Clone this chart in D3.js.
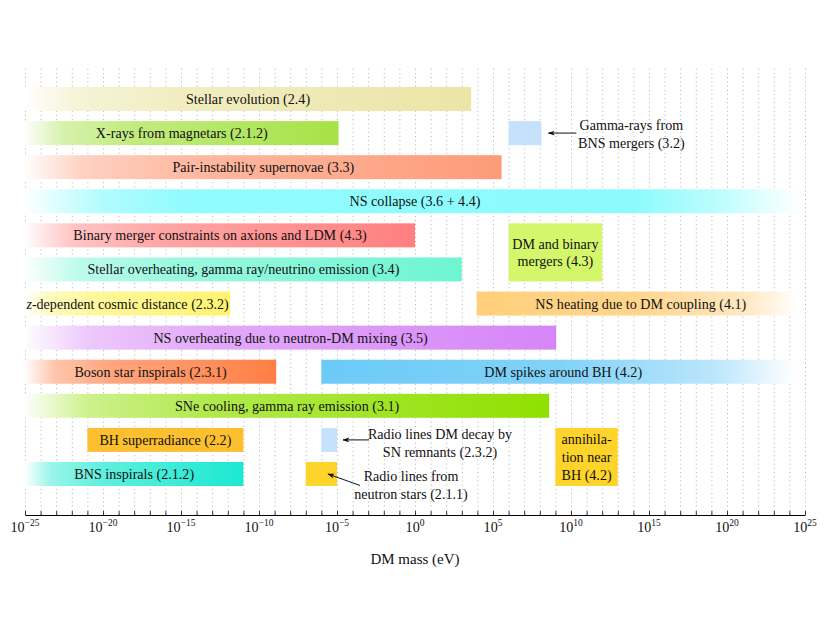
<!DOCTYPE html>
<html><head><meta charset="utf-8">
<script src="https://cdn.jsdelivr.net/npm/d3@7"></script>
<style>
body{margin:0;background:#fff;}
</style></head>
<body><svg id="chart" width="830" height="623" font-family="'Liberation Serif', 'DejaVu Serif', serif"></svg>
<script>
// ---- data (masses in eV, log10 exponents) ----
const barLabels = [
  "Stellar evolution (2.4)",
  "X-rays from magnetars (2.1.2)",
  "Pair-instability supernovae (3.3)",
  "NS collapse (3.6 + 4.4)",
  "Binary merger constraints on axions and LDM (4.3)",
  "Stellar overheating, gamma ray/neutrino emission (3.4)",
  "z-dependent cosmic distance (2.3.2)",
  "NS heating due to DM coupling (4.1)",
  "NS overheating due to neutron-DM mixing (3.5)",
  "Boson star inspirals (2.3.1)",
  "DM spikes around BH (4.2)",
  "SNe cooling, gamma ray emission (3.1)",
  "BH superradiance (2.2)",
  "BNS inspirals (2.1.2)",
  "DM and binary\nmergers (4.3)",
  "annihila-\ntion near\nBH (4.2)"
];
const barLogMin = [-25, -25, -25, -25, -25, -25, -25, 3.95, -25, -25, -6, -25, -21, -25, 6, 9];
const barLogMax = [3.6, -4.9, 5.55, 25, 0, 3, -11.85, 25, 9.05, -8.9, 25, 8.6, -11, -11, 12, 13];
const barRow    = [1, 2, 3, 4, 5, 6, 7, 7, 8, 9, 9, 10, 11, 12, 5, 11];
const barRowSpan= [1, 1, 1, 1, 1, 1, 1, 1, 1, 1, 1, 1, 1, 1, 2, 2];
const barFade   = ["left","left","left","both","left","left","left","right","left","left","right","left","none","left","none","none"];
const barColors = ["#ebe5a6","#a6e247","#fd9b78","#86fbfd","#ff7f7f","#6ef5d2","#fff470","#ffcf7a","#d685f7","#ff7f45","#6ccaf7","#8fe000","#fcbf30","#1ce8d0","#d3f66b","#ffd42a"];

// small boxes with external labels and arrows
const noteLabels = [["Gamma-rays from","BNS mergers (3.2)"],["Radio lines DM decay by","SN remnants (2.3.2)"],["Radio lines from","neutron stars (2.1.1)"]];
const noteLogMin = [6, -6, -7];
const noteLogMax = [8.1, -5, -5];
const noteRow = [2, 11, 12];
const noteColors = ["#c6e1fc","#c6e1fc","#ffd42a"];

const labeledExponents = [-25,-20,-15,-10,-5,0,5,10,15,20,25];
const axisTitle = "DM mass (eV)";

// ---- layout ----
const svg = d3.select("#chart");
const x = d3.scaleLog().domain([1e-25, 1e25]).range([25, 805]);
const nRows = 12;
const y = d3.scaleLinear().domain([1, nRows]).range([99, 474]);
const rowStep = (474-99)/(nRows-1);
const barH = 24;
const plotTop = 67, axisY = 515;
const FS = 14.1;
const TXT = "#111";

const decadeTicks = d3.range(-25, 26).map(e => Math.pow(10, e));

// dotted grid
const grid = svg.append("g").attr("transform", `translate(0,${axisY})`)
  .call(d3.axisBottom(x).tickValues(decadeTicks).tickSize(-(axisY-plotTop)).tickFormat(""));
grid.select(".domain").remove();
grid.selectAll(".tick line").attr("stroke","#9a9a9a").attr("stroke-width",0.8).attr("stroke-dasharray","1,3.2");

// gradients
const defs = svg.append("defs");
const white = "#ffffff";
function gradStops(type, c){
  const m = t => d3.interpolateRgb(white, c)(t);
  if(type==="left") return [[0,m(0.02)],[0.12,m(0.45)],[0.35,m(0.7)],[1,m(1)]];
  if(type==="right") return [[0,m(1)],[0.5,m(0.85)],[0.82,m(0.45)],[0.98,m(0)],[1,m(0)]];
  if(type==="both") return [[0,m(0.02)],[0.1,m(0.65)],[0.2,m(0.9)],[0.78,m(0.95)],[0.9,m(0.5)],[0.99,m(0)],[1,m(0)]];
  return [[0,c],[1,c]];
}
barLabels.forEach((l,i)=>{
  const g = defs.append("linearGradient").attr("id","g"+i).attr("x1","0").attr("x2","1").attr("y1","0").attr("y2","0");
  gradStops(barFade[i], barColors[i]).forEach(s => g.append("stop").attr("offset",s[0]).attr("stop-color",s[1]));
});

// bars
const bars = svg.append("g");
barLabels.forEach((l,i)=>{
  const x0 = x(Math.pow(10,barLogMin[i])), x1 = x(Math.pow(10,barLogMax[i]));
  const yTop = y(barRow[i]) - barH/2;
  const h = barH + (barRowSpan[i]-1)*rowStep;
  bars.append("rect").attr("x",x0).attr("y",yTop).attr("width",x1-x0).attr("height",h)
    .attr("fill", `url(#g${i})`);
  const lines = l.split("\n");
  const cx = (x0+x1)/2, cy = yTop + h/2;
  const lh = 17.6;
  lines.forEach((ln,k)=>{
    const t = bars.append("text").attr("x",cx).attr("y", cy + (k-(lines.length-1)/2)*lh)
      .attr("text-anchor","middle").attr("dominant-baseline","central").attr("font-size",FS).attr("fill",TXT);
    if(ln.startsWith("z-")){
      t.append("tspan").attr("font-style","italic").text("z");
      t.append("tspan").text(ln.slice(1));
    } else t.text(ln);
  });
});

// notes
svg.append("defs").append("marker").attr("id","arr").attr("viewBox","0 0 10 10").attr("refX",9).attr("refY",5)
  .attr("markerWidth",7).attr("markerHeight",7).attr("orient","auto-start-reverse")
  .append("path").attr("d","M0,1.5 L10,5 L0,8.5 L2.5,5 Z").attr("fill","#111");
const notes = svg.append("g");
noteLabels.forEach((l,i)=>{
  const x0 = x(Math.pow(10,noteLogMin[i])), x1 = x(Math.pow(10,noteLogMax[i]));
  const cy = y(noteRow[i]);
  notes.append("rect").attr("x",x0).attr("y",cy-barH/2).attr("width",x1-x0).attr("height",barH).attr("fill",noteColors[i]);
  let tx, ty, ax0, ay0, ax1, ay1;
  if(i===0){ ax0=x1+35; ay0=cy; ax1=x1+7; ay1=cy; tx=x1+90; ty=cy+1; }
  else if(i===1){ ax0=x1+32; ay0=cy; ax1=x1+6; ay1=cy; tx=x1+103; ty=cy+3; }
  else { ax0=x1+23; ay0=cy+11.5; ax1=x1-9; ay1=cy; tx=x1+74; ty=cy+11; }
  notes.append("line").attr("x1",ax0).attr("y1",ay0).attr("x2",ax1).attr("y2",ay1)
    .attr("stroke","#111").attr("stroke-width",1).attr("marker-end","url(#arr)");
  l.forEach((ln,k)=>{
    notes.append("text").attr("x",tx).attr("y",ty + (k-0.5)*17.6).attr("text-anchor","middle")
      .attr("dominant-baseline","central").attr("font-size",FS).attr("fill",TXT).text(ln);
  });
});

// axis
const ax = svg.append("g").attr("transform",`translate(0,${axisY})`)
  .call(d3.axisBottom(x).tickValues(decadeTicks).tickSizeInner(-4).tickSizeOuter(0).tickFormat(""));
ax.attr("font-family",null);
ax.select(".domain").attr("stroke","#000").attr("stroke-width",1);
ax.selectAll(".tick line").attr("stroke","#000").attr("stroke-width",0.8);

const lab = svg.append("g");
labeledExponents.forEach(e=>{
  const t = lab.append("text").attr("x", x(Math.pow(10,e))).attr("y", axisY+17).attr("text-anchor","middle").attr("font-size",FS).attr("fill",TXT);
  t.append("tspan").text("10");
  t.append("tspan").attr("font-size",9.5).attr("dy",-6).text(e<0 ? "\u2212"+Math.abs(e) : String(e));
});
svg.append("text").attr("x",415).attr("y",564).attr("text-anchor","middle").attr("font-size",15).attr("fill",TXT).text(axisTitle);
</script></body></html>
